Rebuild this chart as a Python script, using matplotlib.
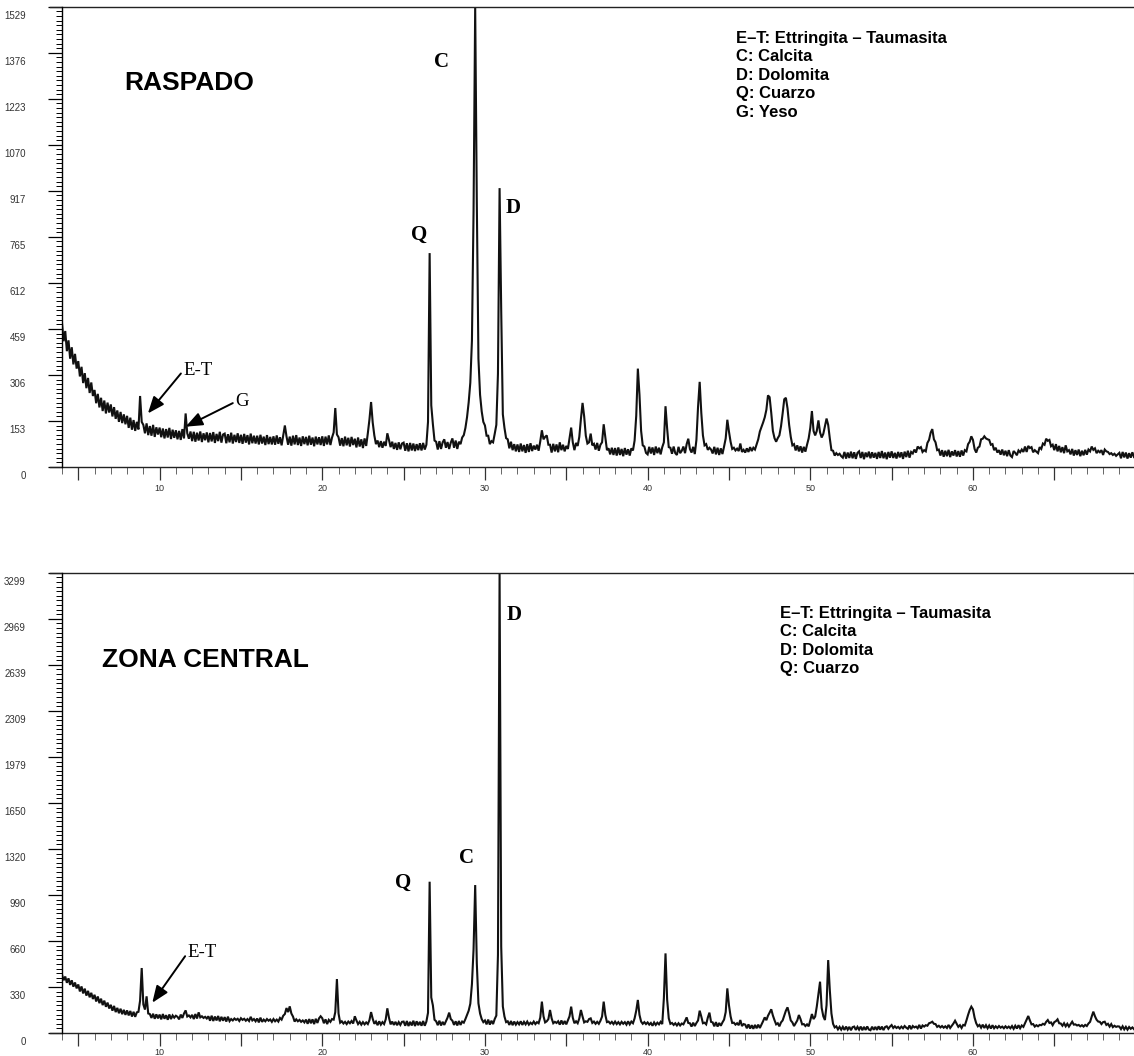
import numpy as np
import matplotlib.pyplot as plt
from matplotlib.lines import Line2D
from matplotlib.ticker import AutoMinorLocator, FixedLocator
import matplotlib.transforms as mtransforms

# 2-theta grid (degrees), one row of counts per degree: d.0 ... d.9
two_theta = np.round(np.arange(40, 700) / 10, 1)

raspado_rows = [
    [478, 418, 452, 385, 421, 360, 398, 341, 376, 327],   # 4
    [352, 301, 333, 279, 312, 262, 296, 246, 281, 236],   # 5
    [256, 212, 243, 198, 230, 186, 221, 178, 214, 181],   # 6
    [208, 168, 199, 160, 188, 150, 183, 146, 175, 142],   # 7
    [170, 130, 164, 124, 156, 120, 150, 125, 236, 150],   # 8
    [140, 112, 145, 106, 136, 104, 140, 100, 132, 108],   # 9
    [131, 99, 128, 95, 126, 98, 130, 93, 124, 97],        # 10
    [122, 92, 120, 90, 126, 95, 178, 112, 94, 118],       # 11
    [86, 117, 84, 114, 88, 118, 83, 112, 89, 115],        # 12
    [82, 113, 85, 116, 80, 110, 86, 117, 81, 108],        # 13
    [111, 79, 109, 82, 114, 78, 107, 83, 112, 80],        # 14
    [107, 77, 110, 81, 106, 75, 111, 79, 104, 78],        # 15
    [104, 75, 107, 78, 101, 73, 106, 76, 100, 75],        # 16
    [102, 74, 105, 77, 99, 72, 104, 138, 102, 74],        # 17
    [101, 71, 104, 75, 106, 73, 98, 70, 102, 76],         # 18
    [100, 72, 104, 74, 98, 69, 101, 75, 99, 73],          # 19
    [102, 70, 101, 75, 105, 73, 98, 115, 196, 108],       # 20
    [99, 71, 96, 69, 101, 72, 97, 68, 100, 73],           # 21
    [94, 65, 98, 68, 92, 63, 95, 70, 112, 158],           # 22
    [216, 148, 105, 76, 88, 66, 86, 64, 84, 70],          # 23
    [112, 90, 66, 84, 60, 80, 57, 82, 59, 78],            # 24
    [81, 54, 79, 52, 80, 55, 78, 53, 76, 56],             # 25
    [79, 55, 80, 58, 74, 150, 711, 205, 142, 88],         # 26
    [84, 58, 86, 60, 82, 92, 64, 83, 60, 81],             # 27
    [95, 64, 88, 60, 84, 76, 98, 106, 130, 166],          # 28
    [215, 280, 420, 850, 1529, 880, 360, 240, 185, 150],  # 29
    [138, 104, 104, 76, 86, 82, 110, 140, 310, 927],      # 30
    [520, 175, 130, 96, 92, 62, 84, 56, 76, 52],          # 31
    [75, 50, 78, 52, 73, 47, 76, 50, 79, 53],             # 32
    [71, 58, 74, 54, 85, 122, 92, 100, 105, 74],          # 33
    [74, 48, 77, 52, 75, 49, 82, 56, 74, 52],             # 34
    [70, 60, 95, 131, 82, 56, 80, 70, 100, 160],          # 35
    [213, 168, 104, 78, 82, 111, 72, 77, 58, 80],         # 36
    [54, 74, 82, 142, 98, 56, 62, 42, 64, 40],            # 37
    [63, 38, 65, 40, 60, 36, 63, 41, 59, 38],             # 38
    [62, 55, 88, 170, 327, 240, 120, 72, 68, 47],         # 39
    [42, 67, 45, 65, 40, 68, 46, 64, 42, 66],             # 40
    [82, 202, 128, 66, 64, 44, 68, 46, 40, 67],           # 41
    [46, 54, 68, 46, 76, 94, 60, 48, 67, 43],             # 42
    [90, 200, 283, 180, 105, 72, 76, 57, 64, 58],         # 43
    [45, 67, 42, 64, 40, 62, 43, 68, 95, 157],            # 44
    [118, 84, 60, 64, 55, 61, 53, 78, 50, 57],            # 45
    [48, 62, 50, 66, 53, 64, 58, 75, 92, 118],            # 46
    [133, 148, 165, 190, 238, 232, 180, 120, 96, 84],     # 47
    [96, 105, 135, 178, 225, 230, 195, 140, 100, 72],     # 48
    [76, 55, 72, 52, 69, 48, 67, 51, 74, 95],             # 49
    [130, 186, 120, 105, 120, 155, 115, 98, 110, 135],    # 50
    [161, 140, 95, 56, 54, 38, 46, 40, 44, 36],           # 51
    [31, 50, 28, 48, 30, 51, 29, 49, 27, 47],             # 52
    [52, 30, 50, 26, 48, 33, 51, 29, 49, 31],             # 53
    [47, 27, 50, 30, 53, 29, 48, 26, 50, 31],             # 54
    [52, 30, 47, 28, 50, 32, 49, 27, 51, 33],             # 55
    [54, 31, 50, 45, 58, 48, 68, 62, 66, 50],             # 56
    [56, 52, 80, 90, 114, 126, 92, 82, 56, 58],           # 57
    [38, 56, 34, 54, 36, 57, 33, 52, 38, 56],             # 58
    [35, 53, 34, 55, 38, 56, 52, 76, 84, 102],            # 59
    [90, 60, 48, 64, 68, 92, 94, 102, 95, 92],            # 60
    [90, 74, 76, 56, 64, 48, 56, 41, 58, 39],             # 61
    [54, 36, 56, 38, 33, 53, 47, 39, 55, 49],             # 62
    [58, 50, 68, 50, 70, 63, 66, 49, 56, 51],             # 63
    [46, 66, 60, 78, 74, 94, 87, 90, 69, 74],             # 64
    [56, 76, 52, 70, 49, 66, 46, 72, 52, 56],             # 65
    [42, 60, 38, 56, 40, 58, 36, 54, 39, 57],             # 66
    [41, 58, 52, 68, 57, 62, 46, 54, 49, 56],             # 67
    [40, 58, 52, 50, 43, 46, 40, 44, 37, 42],             # 68
    [47, 29, 50, 32, 48, 28, 46, 31, 49, 33],             # 69
]

central_rows = [
    [418, 378, 405, 360, 392, 345, 378, 332, 362, 320],   # 4
    [348, 298, 334, 284, 318, 268, 302, 256, 288, 244],   # 5
    [274, 226, 262, 214, 246, 200, 232, 188, 218, 176],   # 6
    [202, 160, 194, 150, 180, 142, 174, 135, 166, 130],   # 7
    [162, 126, 158, 118, 152, 116, 148, 152, 232, 466],   # 8
    [205, 168, 263, 140, 136, 108, 138, 102, 134, 105],   # 9
    [132, 98, 136, 102, 128, 95, 133, 100, 126, 110],     # 10
    [124, 116, 98, 132, 108, 140, 162, 118, 126, 112],    # 11
    [130, 100, 136, 104, 148, 112, 120, 108, 116, 104],   # 12
    [120, 88, 124, 86, 118, 90, 122, 84, 116, 88],        # 13
    [114, 82, 117, 85, 100, 90, 104, 94, 102, 86],        # 14
    [106, 94, 102, 88, 100, 86, 116, 90, 100, 84],        # 15
    [104, 76, 110, 80, 96, 84, 100, 88, 97, 80],          # 16
    [100, 84, 96, 82, 108, 96, 124, 136, 179, 150],       # 17
    [191, 140, 118, 82, 98, 84, 94, 80, 90, 76],          # 18
    [96, 66, 100, 70, 98, 64, 102, 72, 105, 120],         # 19
    [106, 70, 98, 64, 94, 80, 100, 96, 150, 387],         # 20
    [140, 74, 84, 68, 80, 64, 82, 70, 86, 68],            # 21
    [120, 90, 64, 80, 60, 78, 62, 76, 64, 92],            # 22
    [150, 102, 66, 82, 56, 84, 60, 78, 64, 98],           # 23
    [177, 110, 62, 82, 58, 80, 56, 78, 58, 80],           # 24
    [82, 52, 86, 50, 80, 54, 88, 50, 84, 56],             # 25
    [80, 52, 86, 52, 82, 145, 1085, 255, 198, 95],        # 26
    [84, 56, 88, 54, 80, 58, 84, 110, 146, 100],          # 27
    [88, 58, 84, 54, 86, 58, 82, 74, 100, 130],           # 28
    [160, 210, 350, 600, 1061, 500, 213, 140, 100, 78],   # 29
    [90, 62, 96, 60, 88, 64, 100, 125, 560, 3299],        # 30
    [620, 190, 118, 78, 84, 58, 86, 56, 82, 60],          # 31
    [78, 62, 84, 58, 80, 62, 82, 60, 74, 64],             # 32
    [82, 64, 78, 70, 110, 225, 120, 76, 84, 100],         # 33
    [165, 105, 70, 80, 72, 84, 60, 90, 62, 86],           # 34
    [62, 90, 120, 189, 110, 70, 84, 70, 104, 165],        # 35
    [118, 76, 84, 80, 100, 105, 72, 82, 66, 80],          # 36
    [66, 88, 118, 225, 130, 78, 82, 68, 80, 64],          # 37
    [82, 64, 78, 62, 80, 66, 78, 60, 84, 62],             # 38
    [82, 70, 105, 160, 237, 130, 82, 66, 78, 64],         # 39
    [76, 60, 72, 52, 76, 58, 74, 62, 80, 64],             # 40
    [250, 571, 240, 105, 66, 72, 58, 70, 54, 70],         # 41
    [54, 68, 62, 86, 112, 72, 70, 46, 74, 50],            # 42
    [72, 90, 160, 118, 70, 74, 62, 110, 146, 80],         # 43
    [76, 48, 78, 46, 72, 52, 76, 96, 150, 320],           # 44
    [200, 120, 72, 74, 60, 70, 56, 93, 50, 64],           # 45
    [60, 34, 62, 32, 56, 30, 58, 34, 60, 36],             # 46
    [60, 85, 112, 92, 124, 146, 170, 126, 92, 62],        # 47
    [70, 48, 76, 90, 125, 160, 184, 140, 90, 76],         # 48
    [50, 70, 90, 129, 100, 62, 64, 50, 62, 48],           # 49
    [90, 136, 100, 118, 190, 280, 368, 180, 120, 93],     # 50
    [200, 523, 308, 140, 66, 40, 48, 26, 44, 24],         # 51
    [44, 22, 46, 24, 44, 20, 42, 46, 22, 44],             # 52
    [24, 46, 20, 44, 22, 47, 25, 20, 45, 23],             # 53
    [44, 22, 48, 24, 46, 21, 43, 48, 30, 46],             # 54
    [57, 36, 48, 36, 44, 32, 46, 34, 50, 38],             # 55
    [30, 54, 28, 50, 40, 46, 34, 58, 32, 54],             # 56
    [46, 56, 52, 70, 74, 81, 66, 64, 44, 52],             # 57
    [40, 50, 38, 48, 36, 58, 36, 52, 68, 88],             # 58
    [66, 44, 56, 36, 58, 54, 90, 130, 165, 189],          # 59
    [170, 110, 70, 48, 58, 38, 60, 36, 56, 34],           # 60
    [54, 32, 56, 34, 48, 36, 50, 38, 46, 34],             # 61
    [48, 36, 46, 34, 50, 30, 52, 32, 56, 34],             # 62
    [54, 44, 70, 95, 122, 90, 62, 64, 46, 56],            # 63
    [48, 58, 56, 66, 60, 80, 93, 72, 76, 56],             # 64
    [78, 85, 98, 70, 68, 52, 70, 48, 66, 46],             # 65
    [64, 81, 60, 62, 54, 58, 48, 56, 46, 58],             # 66
    [50, 68, 80, 118, 153, 120, 95, 82, 80, 64],          # 67
    [78, 81, 58, 66, 46, 64, 42, 52, 44, 48],             # 68
    [46, 28, 48, 26, 44, 24, 43, 30, 40, 28],             # 69
]

raspado_counts = np.concatenate(raspado_rows)
central_counts = np.concatenate(central_rows)

raspado_yticks = [0, 153, 306, 459, 612, 765, 917, 1070, 1223, 1376, 1529]
central_yticks = [0, 330, 660, 990, 1320, 1650, 1979, 2309, 2639, 2969, 3299]

raspado_legend = ["E\u2013T: Ettringita \u2013 Taumasita", "C: Calcita",
                  "D: Dolomita", "Q: Cuarzo", "G: Yeso"]
central_legend = ["E\u2013T: Ettringita \u2013 Taumasita", "C: Calcita",
                  "D: Dolomita", "Q: Cuarzo"]

W, H = 1134, 1056
fig = plt.figure(figsize=(W / 100, H / 100), dpi=100)
fig.patch.set_facecolor("white")


def add_panel(top, bottom):
    return fig.add_axes([62 / W, 1 - bottom / H, (1134 - 62) / W, (bottom - top) / H])


def style_panel(ax, counts, yticks, right_spine, xpad):
    ax.plot(two_theta, counts, color="#111111", lw=1.5, solid_joinstyle="miter")
    ax.set_xlim(4, 69.9)
    ax.set_ylim(0, yticks[-1])
    for side in ("top", "bottom", "right"):
        ax.spines[side].set_visible(False)
    ax.spines["right"].set_visible(right_spine)
    ax.spines["left"].set_linewidth(1.0)
    # frame lines stick out a bit to the left of the y axis
    for yy in (0, 1):
        ax.add_line(Line2D([-12 / 1072, 1], [yy, yy], transform=ax.transAxes,
                           color="#222222", lw=1.0, clip_on=False))

    ax.yaxis.set_major_locator(FixedLocator(yticks))
    ax.set_yticklabels([str(v) for v in yticks])
    ax.yaxis.set_minor_locator(AutoMinorLocator(10))
    ax.tick_params(axis="y", which="major", direction="out", length=10, width=0.9,
                   pad=16, labelsize=7, labelcolor="#333333")
    ax.tick_params(axis="y", which="minor", direction="out", length=4, width=0.7)
    shift = mtransforms.ScaledTranslation(0, -8 / 100, fig.dpi_scale_trans)
    for lab in ax.get_yticklabels():
        lab.set_transform(lab.get_transform() + shift)
        lab.set_fontfamily("Liberation Sans")

    major_x = list(range(5, 70, 5))
    ax.set_xticks(major_x)
    ax.set_xticklabels([str(v) if v % 10 == 0 else "" for v in major_x])
    ax.set_xticks([v for v in range(4, 70) if v % 5], minor=True)
    ax.tick_params(axis="x", which="major", direction="out", length=9, width=0.9,
                   pad=xpad, labelsize=6.5, labelcolor="#333333", color="#333333")
    ax.tick_params(axis="x", which="minor", direction="out", length=5, width=0.7,
                   color="#666666")
    for lab in ax.get_xticklabels():
        lab.set_fontfamily("Liberation Sans")


ax1 = add_panel(7, 467)
ax2 = add_panel(573, 1033)
style_panel(ax1, raspado_counts, raspado_yticks, right_spine=False, xpad=3)
style_panel(ax2, central_counts, central_yticks, right_spine=True, xpad=1.5)

bold_sans = dict(family="Liberation Sans", weight="bold", color="black")
serif_bold = dict(family="Liberation Serif", weight="bold", fontsize=15,
                  ha="center", va="center", color="black")
arrow = dict(arrowstyle="-|>,head_length=0.75,head_width=0.3", color="black",
             lw=1.4, shrinkA=0, shrinkB=0, relpos=(0, 0.5))

# sample names
ax1.text(0.119, 0.835, "RASPADO", transform=ax1.transAxes, fontsize=19,
         ha="center", va="center", **bold_sans)
ax2.text(0.1334, 0.811, "ZONA CENTRAL", transform=ax2.transAxes, fontsize=19,
         ha="center", va="center", **bold_sans)

# phase keys
for i, line in enumerate(raspado_legend):
    ax1.text(0.629, 0.9326 - i * 18.5 / 460, line, transform=ax1.transAxes,
             fontsize=12, ha="left", va="center", **bold_sans)
for i, line in enumerate(central_legend):
    ax2.text(0.670, 0.913 - i * 18.5 / 460, line, transform=ax2.transAxes,
             fontsize=12, ha="left", va="center", **bold_sans)

# peak letters
ax1.text(27.33, 1346, "C", **serif_bold)
ax1.text(31.76, 861, "D", **serif_bold)
ax1.text(25.98, 771, "Q", **serif_bold)
ax2.text(31.82, 2998, "D", **serif_bold)
ax2.text(28.87, 1255, "C", **serif_bold)
ax2.text(25.0, 1076, "Q", **serif_bold)

# minor phases pointed with arrows
ax1.annotate("E-T", xy=(9.28, 178), xytext=(11.48, 322), fontsize=13.5,
             family="Liberation Serif", ha="left", va="center", arrowprops=arrow)
ax1.annotate("G", xy=(11.6, 134), xytext=(14.67, 217), fontsize=13.5,
             family="Liberation Serif", ha="left", va="center", arrowprops=arrow)
ax2.annotate("E-T", xy=(9.55, 217), xytext=(11.74, 579), fontsize=13.5,
             family="Liberation Serif", ha="left", va="center", arrowprops=arrow)

fig.savefig("out.png", dpi=100, facecolor="white")
